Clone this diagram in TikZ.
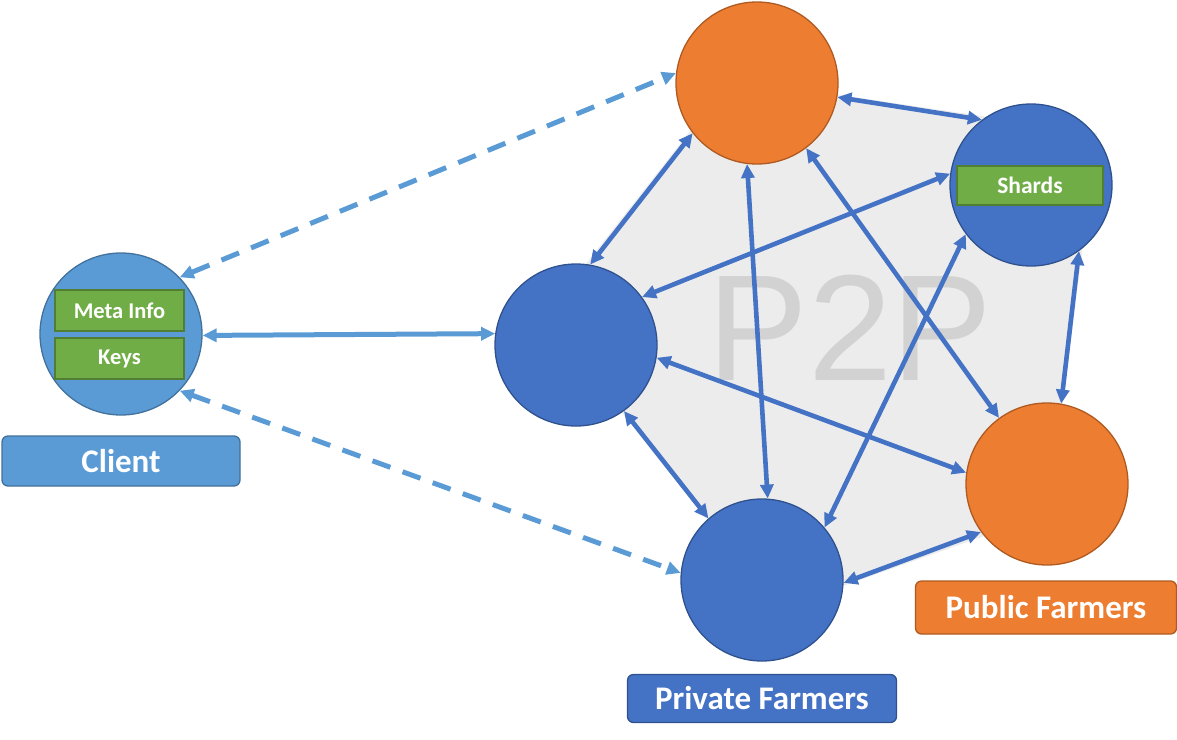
\documentclass[tikz,border=0pt]{standalone}
\usepackage{fontspec}
\setmainfont{Carlito}
\newfontfamily\ptwopfont{Liberation Sans}
\usetikzlibrary{arrows.meta}
\definecolor{cliblue}{HTML}{5B9BD5}
\definecolor{cliborder}{HTML}{41719C}
\definecolor{nodeblue}{HTML}{4472C4}
\definecolor{blueborder}{HTML}{2F528F}
\definecolor{nodeorange}{HTML}{ED7D31}
\definecolor{orangeborder}{HTML}{AE5A21}
\definecolor{boxgreen}{HTML}{70AD47}
\definecolor{greenborder}{HTML}{507E32}
\definecolor{polygray}{HTML}{ECECEC}
\definecolor{ptwopgray}{HTML}{D2D2D2}
\tikzset{
  peer/.style={circle, minimum size=162pt, inner sep=0pt, line width=1.3pt},
  bluepeer/.style={peer, fill=nodeblue, draw=blueborder},
  orangepeer/.style={peer, fill=nodeorange, draw=orangeborder},
  clientpeer/.style={peer, fill=cliblue, draw=cliborder},
  greenbox/.style={rectangle, fill=boxgreen, draw=greenborder, line width=1.8pt, inner sep=0pt,
    text=white, font=\bfseries\fontsize{22.5}{26}\selectfont},
  labelbox/.style={rectangle, rounded corners=6pt, line width=1.3pt, inner sep=0pt,
    text=white, font=\bfseries\fontsize{33}{38}\selectfont},
  link/.style={draw=nodeblue, line width=4.6pt, {Triangle[length=14pt,width=13pt]}-{Triangle[length=14pt,width=13pt]}},
  clientlink/.style={draw=cliblue, line width=5pt, {Triangle[length=14pt,width=13pt]}-{Triangle[length=14pt,width=13pt]}},
  dashlink/.style={clientlink, dash pattern=on 19pt off 13pt},
}
\begin{document}
\begin{tikzpicture}[x=1pt,y=-1pt]
\useasboundingbox (0,0) rectangle (1177,739);
% gray polygon
\fill[polygray] (731,79) -- (1097,133) -- (1049,513) -- (778,609) -- (545,316) -- cycle;
\node[text=ptwopgray, font=\ptwopfont\fontsize{151}{160}\selectfont, inner sep=0pt] (ptwop) at (850,328) {P2P};

% peers
\node[clientpeer] (C) at (121,334) {};
\node[bluepeer] (L) at (576,345) {};
\node[orangepeer] (T) at (757,83) {};
\node[bluepeer] (S) at (1031,185) {};
\node[orangepeer] (O) at (1047,484) {};
\node[bluepeer] (B) at (762,580) {};

% inner boxes
\node[greenbox, minimum width=129pt, minimum height=41pt] (meta) at (119.5,310.5) {Meta Info};
\node[greenbox, minimum width=129pt, minimum height=41pt] (keys) at (119.5,358.5) {Keys};
\node[greenbox, minimum width=146pt, minimum height=39pt, font=\bfseries\fontsize{23.5}{27}\selectfont] (shards) at (1030,185.5) {Shards};

% labels
\node[labelbox, fill=cliblue, draw=cliborder, minimum width=238pt, minimum height=50pt] (clientlbl) at (121,461) {Client};
\node[labelbox, fill=nodeorange, draw=orangeborder, minimum width=261pt, minimum height=53pt] (publbl) at (1046,607.5) {Public Farmers};
\node[labelbox, fill=nodeblue, draw=blueborder, minimum width=269pt, minimum height=48pt] (privlbl) at (762,698.5) {Private Farmers};

% client links
\draw[clientlink] (C.-1) -- (L.172);
\draw[dashlink] (C.44) -- (T.173);
\draw[dashlink] (C.-44) -- (B.175);

% p2p links
\draw[link] (L.80) -- (T.218);
\draw[link] (T.-10) -- (S.127);
\draw[link] (S.-54) -- (O.80);
\draw[link] (O.216) -- (B.-2);
\draw[link] (B.131) -- (L.-54);
\draw[link] (L.36) -- (S.172);
\draw[link] (L.-9) -- (O.172);
\draw[link] (T.263) -- (B.86.5);
\draw[link] (T.-53) -- (O.126);
\draw[link] (S.217) -- (B.40.5);
\end{tikzpicture}
\end{document}
